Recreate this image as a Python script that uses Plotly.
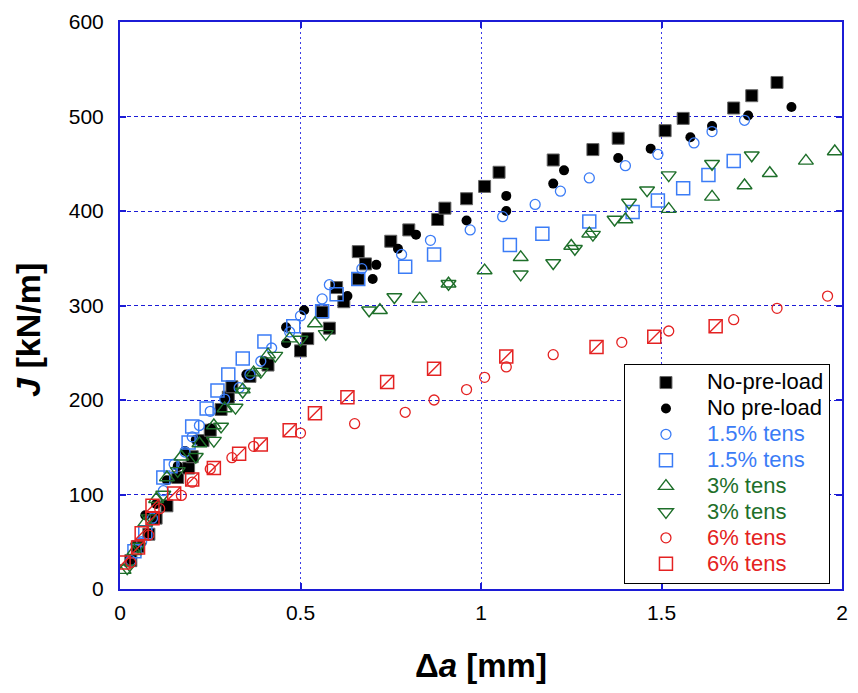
import plotly.graph_objects as go

# Crack extension (mm) vs J-integral (kN/m) for each pre-load condition
noload_sq_x = [0.03, 0.05, 0.08, 0.10, 0.13, 0.16, 0.19, 0.20, 0.23, 0.25, 0.28, 0.30, 0.31, 0.36, 0.41,
               0.50, 0.52, 0.56, 0.58, 0.60, 0.62, 0.66, 0.66, 0.68, 0.75, 0.80, 0.88, 0.90, 0.96, 1.01,
               1.05, 1.20, 1.31, 1.38, 1.51, 1.56, 1.70, 1.75, 1.82]
noload_sq_y = [30, 45, 58, 75, 88, 118, 128, 140, 157, 168, 190, 203, 214, 225, 237,
               252, 265, 293, 276, 319, 304, 328, 357, 344, 368, 380, 391, 403, 413, 426,
               441, 454, 465, 477, 485, 498, 509, 522, 536]

noload_ci_x = [0.07, 0.10, 0.13, 0.16, 0.18, 0.21, 0.25, 0.28, 0.29, 0.35, 0.40, 0.46, 0.46, 0.51, 0.63,
               0.70, 0.71, 0.77, 0.82, 0.96, 1.07, 1.07, 1.20, 1.23, 1.38, 1.47, 1.58, 1.64, 1.74, 1.86]
noload_ci_y = [78, 90, 115, 130, 146, 158, 170, 190, 201, 227, 241, 260, 277, 295, 310,
               328, 343, 360, 375, 390, 400, 416, 429, 443, 456, 466, 478, 490, 501, 510]

t15_ci_x = [0.03, 0.06, 0.09, 0.12, 0.15, 0.18, 0.20, 0.22, 0.25, 0.29, 0.33, 0.36, 0.39, 0.42, 0.47, 0.50,
            0.56, 0.58, 0.67, 0.78, 0.86, 0.97, 1.06, 1.15, 1.22, 1.30, 1.40, 1.49, 1.59, 1.64, 1.73]
t15_ci_y = [30, 50, 75, 104, 132, 145, 161, 173, 188, 201, 213, 227, 241, 255, 272, 289,
            307, 322, 339, 354, 369, 380, 394, 407, 421, 435, 448, 460, 472, 484, 496]

t15_sq_x = [0.04, 0.07, 0.12, 0.14, 0.19, 0.20, 0.24, 0.27, 0.30, 0.34, 0.40, 0.48, 0.56, 0.60, 0.66,
            0.79, 0.87, 1.08, 1.17, 1.30, 1.42, 1.49, 1.56, 1.63, 1.70]
t15_sq_y = [40, 60, 118, 130, 155, 172, 191, 210, 227, 244, 262, 278, 294, 312, 328,
            341, 354, 364, 376, 389, 399, 411, 424, 438, 453]

t3_up_x = [0.01, 0.04, 0.07, 0.10, 0.13, 0.17, 0.22, 0.26, 0.29, 0.34, 0.37, 0.41, 0.47, 0.54,
           0.72, 0.83, 0.91, 1.01, 1.11, 1.25, 1.30, 1.40, 1.52, 1.64, 1.73, 1.80, 1.90, 1.98]
t3_up_y = [20, 40, 70, 95, 118, 140, 154, 173, 191, 211, 229, 248, 265, 281,
           295, 307, 323, 337, 351, 363, 376, 391, 402, 415, 427, 440, 453, 463]

t3_dn_x = [0.02, 0.05, 0.08, 0.12, 0.16, 0.21, 0.26, 0.28, 0.32, 0.34, 0.39, 0.43, 0.50, 0.57,
           0.69, 0.76, 0.91, 1.11, 1.20, 1.26, 1.31, 1.37, 1.41, 1.46, 1.52, 1.64, 1.75]
t3_dn_y = [22, 45, 75, 100, 125, 140, 157, 172, 192, 209, 230, 247, 264, 270,
           295, 309, 323, 333, 345, 360, 375, 391, 409, 422, 438, 450, 459]

t6_ci_x = [0.03, 0.08, 0.11, 0.17, 0.20, 0.25, 0.31, 0.37, 0.50, 0.65, 0.79, 0.87, 0.96, 1.01,
           1.07, 1.20, 1.39, 1.52, 1.70, 1.82, 1.96]
t6_ci_y = [28, 57, 85, 99, 113, 127, 139, 151, 165, 175, 187, 200, 211, 224,
           235, 248, 261, 273, 285, 297, 310]

t6_sq_x = [0.01, 0.05, 0.06, 0.09, 0.09, 0.15, 0.20, 0.26, 0.33, 0.39, 0.47, 0.54, 0.63, 0.74,
           0.87, 1.07, 1.32, 1.48, 1.65]
t6_sq_y = [28, 44, 59, 75, 88, 101, 116, 128, 143, 153, 168, 186, 203, 219,
           233, 246, 256, 267, 278]

x_ticks = [0, 0.5, 1, 1.5, 2]
x_tick_text = ["0", "0.5", "1", "1.5", "2"]
y_ticks = [0, 100, 200, 300, 400, 500, 600]

BLACK = "#000000"
BLUE = "#3b7cf6"
GREEN = "#1e6f2a"
RED = "#e42222"
FRAME = "#1c1cd6"
FONT = "Liberation Sans, Arial, sans-serif"


def label(text, color):
    return f"<span style='color:{color};font-size:22px'>{text}</span>"


fig = go.Figure()

fig.add_trace(go.Scatter(
    x=noload_sq_x, y=noload_sq_y, mode="markers", name=label("No-pre-load", BLACK),
    marker=dict(symbol="square", size=12, color=BLACK, line=dict(color="#666666", width=1))))
fig.add_trace(go.Scatter(
    x=noload_ci_x, y=noload_ci_y, mode="markers", name=label("No pre-load", BLACK),
    marker=dict(symbol="circle", size=10, color=BLACK, line=dict(width=0))))
fig.add_trace(go.Scatter(
    x=t15_ci_x, y=t15_ci_y, mode="markers", name=label("1.5% tens", BLUE),
    marker=dict(symbol="circle-open", size=10, color=BLUE, line=dict(width=1.3))))
fig.add_trace(go.Scatter(
    x=t15_sq_x, y=t15_sq_y, mode="markers", name=label("1.5% tens", BLUE),
    marker=dict(symbol="square-open", size=13, color=BLUE, line=dict(width=1.5))))
fig.add_trace(go.Scatter(
    x=t3_up_x, y=t3_up_y, mode="markers", name=label("3% tens", GREEN),
    marker=dict(symbol="triangle-up-open", size=13, color=GREEN, line=dict(width=1.4))))
fig.add_trace(go.Scatter(
    x=t3_dn_x, y=t3_dn_y, mode="markers", name=label("3% tens", GREEN),
    marker=dict(symbol="triangle-down-open", size=13, color=GREEN, line=dict(width=1.4))))
fig.add_trace(go.Scatter(
    x=t6_ci_x, y=t6_ci_y, mode="markers", name=label("6% tens", RED),
    marker=dict(symbol="circle-open", size=10, color=RED, line=dict(width=1.3))))
fig.add_trace(go.Scatter(
    x=t6_sq_x, y=t6_sq_y, mode="markers", name=label("6% tens", RED),
    marker=dict(symbol="square-open", size=13, color=RED, line=dict(width=1.5))))
# diagonal stroke inside the 6% squares
fig.add_trace(go.Scatter(
    x=t6_sq_x, y=t6_sq_y, mode="markers", showlegend=False, hoverinfo="skip",
    marker=dict(symbol="line-ne", size=13, color=RED, line=dict(width=1.4, color=RED))))

axis_common = dict(
    showline=True, linecolor=FRAME, linewidth=2, mirror="ticks",
    ticks="inside", ticklen=6, tickwidth=1.5, tickcolor=FRAME,
    showgrid=True, gridwidth=1.2,
    zeroline=False, tickfont=dict(family=FONT, size=21, color="black"),
)

fig.update_xaxes(
    range=[0, 2], tickvals=x_ticks, ticktext=x_tick_text, ticklabelstandoff=4,
    gridcolor="#3a3ae6", griddash="2px,3px",
    title=dict(text="<b>Δ<i>a</i> [mm]</b>", font=dict(family=FONT, size=33, color="black"), standoff=31),
    **axis_common)
fig.update_yaxes(
    range=[0, 600], tickvals=y_ticks, ticklabelstandoff=10,
    gridcolor=FRAME, griddash="4px,3px",
    **axis_common)

fig.update_layout(
    width=858, height=693,
    margin=dict(l=120, r=10, t=18, b=104),
    paper_bgcolor="white", plot_bgcolor="white",
    font=dict(family=FONT),
    showlegend=True,
    legend=dict(
        x=0.698, y=0.3975, xanchor="left", yanchor="top",
        bgcolor="white", bordercolor="black", borderwidth=1,
        font=dict(family=FONT, size=17.6, color="black"),
        itemwidth=72, tracegroupgap=0,
    ),
    annotations=[dict(
        text="<b><i>J</i> [kN/m]</b>", xref="paper", yref="paper",
        x=0, y=0.457, xshift=-92, textangle=-90, showarrow=False,
        xanchor="center", yanchor="middle",
        font=dict(family=FONT, size=34, color="black"),
    )],
)

fig.write_html("out.html")
